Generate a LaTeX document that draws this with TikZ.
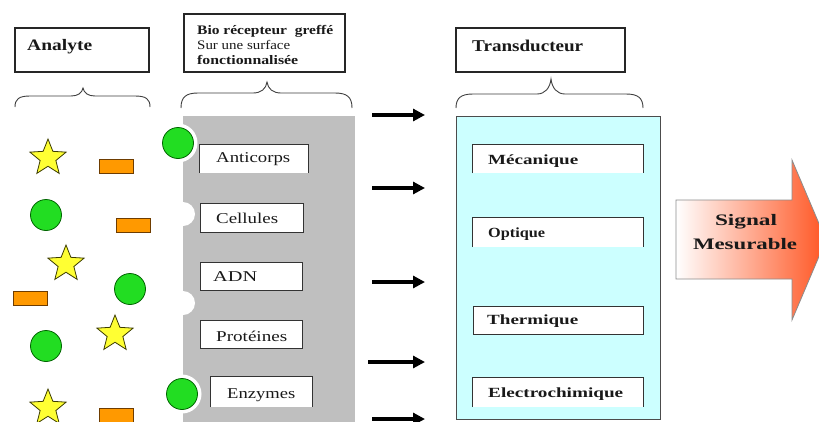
\documentclass[tikz,border=0pt]{standalone}
\usepackage{fontspec}
\setmainfont{Liberation Serif}
\usepackage{graphicx}
\usetikzlibrary{shapes.geometric,arrows.meta}
\newcommand\fitw[2]{\resizebox{#1}{\height}{#2}}
\definecolor{grayfill}{RGB}{191,191,191}
\definecolor{cyanfill}{RGB}{204,255,255}
\definecolor{ballgreen}{RGB}{34,221,34}
\definecolor{balledge}{RGB}{0,100,0}
\definecolor{staryellow}{RGB}{255,255,51}
\definecolor{staredge}{RGB}{60,60,0}
\definecolor{brickorange}{RGB}{255,153,0}
\definecolor{brickedge}{RGB}{110,60,0}
\definecolor{signalred}{RGB}{255,85,34}
\tikzset{
 hdr/.style={draw=black!85, line width=1.1pt, fill=white, inner sep=0pt},
 ibox/.style={draw=black!80, line width=0.9pt, fill=white, inner sep=0pt},
 wbox/.style={fill=white, inner sep=0pt},
 openedge/.style={draw=black!80, line width=0.9pt},
 lbl/.style={inner sep=0pt, anchor=west, text=black!90},
 brc/.style={draw=black!75, line width=0.9pt},
 flow/.style={line width=3.4pt, -{Triangle[length=12pt,width=12pt]}},
 ball/.style={circle, fill=ballgreen, draw=balledge, line width=0.8pt, minimum size=31pt, inner sep=0pt},
 halo/.style={circle, fill=white, minimum size=39pt, inner sep=0pt},
 notch/.style={circle, fill=white, minimum size=24pt, inner sep=0pt},
 starshape/.style={star, star points=5, star point ratio=2.3, fill=staryellow, draw=staredge, line width=0.8pt, minimum size=38pt, inner sep=0pt},
 brick/.style={rectangle, fill=brickorange, draw=brickedge, line width=0.8pt, minimum width=34pt, minimum height=14pt, inner sep=0pt},
}
\begin{document}
\begin{tikzpicture}[x=1pt,y=-1pt]
\useasboundingbox[fill=white] (0,0) rectangle (819,421);

% header boxes
\node[hdr, minimum width=134pt, minimum height=44pt] (analyte) at (82,50) {};
\node[hdr, minimum width=161pt, minimum height=58pt] (bio) at (264.5,43) {};
\node[hdr, minimum width=169pt, minimum height=44pt] (trans) at (540.5,50) {};
\node[lbl] (tanalyte) at (27,47) {\fontsize{16}{18}\selectfont\fitw{65pt}{\bfseries Analyte}};
\node[lbl] (tbio1) at (197,31) {\fontsize{13}{15}\selectfont\fitw{136pt}{\bfseries Bio récepteur\ \ greffé}};
\node[lbl] (tbio2) at (197,45) {\fontsize{13}{15}\selectfont\fitw{93pt}{Sur une surface}};
\node[lbl] (tbio3) at (197,60) {\fontsize{13}{15}\selectfont\fitw{101pt}{\bfseries fonctionnalisée}};
\node[lbl] (ttrans) at (472,46) {\fontsize{16.5}{19}\selectfont\fitw{111pt}{\bfseries Transducteur}};

% braces
\draw[brc] (15,107) .. controls (15,99) and (19,96) .. (30,96) -- (71,96) .. controls (78,96) and (82,93) .. (83,88) .. controls (84,93) and (88,96) .. (95,96) -- (135,96) .. controls (146,96) and (150,99) .. (150,107);
\draw[brc] (181,108) .. controls (181,97) and (186,93) .. (198,93) -- (253,93) .. controls (261,93) and (266,89) .. (267,82) .. controls (268,89) and (273,93) .. (281,93) -- (335,93) .. controls (347,93) and (352,97) .. (352,108);
\draw[brc] (456,108) .. controls (456,98) and (461,94) .. (473,94) -- (537,94) .. controls (545,94) and (550,88) .. (551,79) .. controls (552,88) and (557,94) .. (565,94) -- (626,94) .. controls (638,94) and (643,98) .. (643,108);

% bio receptor panel
\fill[grayfill] (183,116) rectangle (355,422);
\node[notch] (n1) at (183,214) {};
\node[notch] (n2) at (183,303) {};
\node[halo] (h1) at (178,143) {};
\node[halo] (h2) at (182,394) {};
\node[ball] (g4) at (178,143) {};
\node[ball] (g5) at (182,394) {};

\node[wbox, minimum width=108pt, minimum height=28pt] (anti) at (254,159) {};
\draw[openedge] (anti.south west) |- (anti.north east) -- (anti.south east);
\node[ibox, minimum width=103pt, minimum height=29pt] (cell) at (251.5,217.5) {};
\node[ibox, minimum width=102pt, minimum height=28pt] (adn) at (251,276) {};
\node[ibox, minimum width=102pt, minimum height=28pt] (prot) at (251,334) {};
\node[wbox, minimum width=101pt, minimum height=30pt] (enz) at (261.5,392) {};
\draw[openedge] (enz.south west) |- (enz.north east) -- (enz.south east);

\node[lbl] (tanti) at (216,159) {\fontsize{15}{17}\selectfont\fitw{74pt}{Anticorps}};
\node[lbl] (tcell) at (216,218) {\fontsize{15}{17}\selectfont\fitw{62pt}{Cellules}};
\node[lbl] (tadn) at (213,277) {\fontsize{15}{17}\selectfont\fitw{44pt}{ADN}};
\node[lbl] (tprot) at (216,336) {\fontsize{15}{17}\selectfont\fitw{71pt}{Protéines}};
\node[lbl] (tenz) at (227,395) {\fontsize{15}{17}\selectfont\fitw{68pt}{Enzymes}};

% analyte species
\node[starshape] (s1) at (48,158) {};
\node[starshape] (s2) at (66,264) {};
\node[starshape] (s3) at (115,334) {};
\node[starshape] (s4) at (48,408) {};
\node[brick] (b1) at (116,166) {};
\node[brick] (b2) at (133,225) {};
\node[brick] (b3) at (30.5,298) {};
\node[brick] (b4) at (116,415) {};
\node[ball] (g1) at (46,215) {};
\node[ball] (g2) at (130,289) {};
\node[ball] (g3) at (46,346) {};

% arrows
\coordinate (a1s) at (372,115); \coordinate (a1e) at (425,115);
\coordinate (a2s) at (372,188); \coordinate (a2e) at (425,188);
\coordinate (a3s) at (372,282); \coordinate (a3e) at (425,282);
\coordinate (a4s) at (368,362); \coordinate (a4e) at (425,362);
\coordinate (a5s) at (372,419); \coordinate (a5e) at (425,419);
\draw[flow] (a1s) -- (a1e);
\draw[flow] (a2s) -- (a2e);
\draw[flow] (a3s) -- (a3e);
\draw[flow] (a4s) -- (a4e);
\draw[flow] (a5s) -- (a5e);

% transducer panel
\draw[fill=cyanfill, draw=black!70, line width=0.8pt] (456,116) rectangle (660,419);
\node[wbox, minimum width=170pt, minimum height=28pt] (meca) at (558,159) {};
\draw[openedge] (meca.south west) |- (meca.north east) -- (meca.south east);
\node[wbox, minimum width=170pt, minimum height=29pt] (opti) at (558,232.5) {};
\draw[openedge] (opti.south west) |- (opti.north east) -- (opti.south east);
\node[ibox, minimum width=170pt, minimum height=28pt] (therm) at (558,320) {};
\node[wbox, minimum width=170pt, minimum height=29pt] (elec) at (558,392.5) {};
\draw[openedge] (elec.south west) |- (elec.north east) -- (elec.south east);

\node[lbl] (tmeca) at (488,161) {\fontsize{14}{16}\selectfont\fitw{90pt}{\bfseries Mécanique}};
\node[lbl] (topti) at (488,234) {\fontsize{14}{16}\selectfont\fitw{57pt}{\bfseries Optique}};
\node[lbl] (ttherm) at (487,321) {\fontsize{14}{16}\selectfont\fitw{91pt}{\bfseries Thermique}};
\node[lbl] (telec) at (488,394) {\fontsize{14}{16}\selectfont\fitw{135pt}{\bfseries Electrochimique}};

% big signal arrow
\draw[draw=black!45, line width=0.8pt, left color=white, right color=signalred]
  (676,200) -- (792,200) -- (792,160) -- (826,240) -- (792,320) -- (792,279) -- (676,279) -- cycle;
\node[inner sep=0pt, text=black!90] (tsig1) at (746,222) {\fontsize{16}{18}\selectfont\fitw{62pt}{\bfseries Signal}};
\node[inner sep=0pt, text=black!90] (tsig2) at (745,244) {\fontsize{16}{18}\selectfont\fitw{104pt}{\bfseries Mesurable}};
\end{tikzpicture}
\end{document}
